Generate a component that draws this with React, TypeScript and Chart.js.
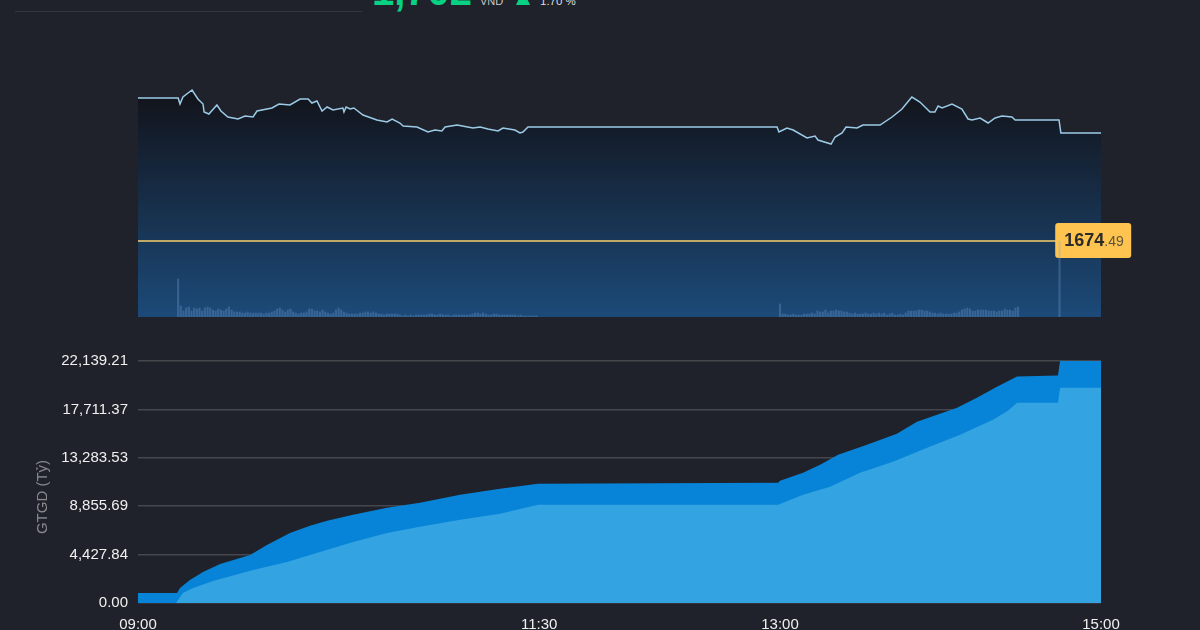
import { useEffect, useRef } from 'react'
import Chart from 'chart.js/auto'

const BG = '#1f222a'
const GREEN = '#08d184'
const FONT = '"Liberation Sans", Arial, sans-serif'

const PRICE_MINUTES = [
  0, 15, 15.7, 16.8, 20.2, 22.4, 24.3, 24.7, 26.5, 29.5, 31, 33.6, 37.4, 40, 43, 44.5, 50.1, 52.7, 56.8, 60.6, 63.6, 65,
  66.9, 68.8, 70.7, 72.9, 76.6, 77, 77.8, 79.3, 80.7, 84.1, 89.3, 93.1, 95, 97.9, 99.1, 104.3, 108.4, 111, 113.6, 114.8,
  119.3, 125.2, 127.9, 130.8, 134.6, 136.4, 140.9, 142.8, 143.9, 145.8, 154, 238.9, 239.6, 242.6, 244.9, 250.1, 253.1,
  254.2, 259.1, 260.6, 263.2, 264.7, 268.8, 271, 277.4, 281.9, 285.6, 289.3, 292.3, 296.1, 297.9, 299.1, 300.6, 304.3,
  308, 310.3, 311.8, 314.8, 317.8, 320.4, 323, 326.7, 327.9, 344.3, 345, 360,
]
const PRICE_VALUES = [
  1711.67, 1711.67, 1710.11, 1711.93, 1713.75, 1711.41, 1710.11, 1708.03, 1707.51, 1709.85, 1708.29, 1706.73, 1706.21,
  1706.99, 1706.73, 1708.29, 1709.07, 1710.11, 1709.85, 1711.41, 1711.41, 1710.37, 1710.89, 1708.29, 1709.33, 1708.55,
  1709.07, 1708.03, 1709.33, 1708.81, 1709.07, 1707.25, 1705.95, 1705.43, 1706.21, 1705.17, 1704.39, 1704.13, 1702.83,
  1703.35, 1703.09, 1704.13, 1704.65, 1703.87, 1704.13, 1703.61, 1703.09, 1703.87, 1703.35, 1702.57, 1702.83, 1704.13,
  1704.13, 1704.13, 1702.83, 1703.87, 1703.35, 1701.27, 1701.79, 1700.75, 1699.71, 1701.53, 1702.57, 1704.13, 1703.87,
  1704.65, 1704.65, 1706.73, 1708.81, 1711.93, 1710.63, 1708.03, 1708.03, 1709.59, 1709.07, 1710.11, 1708.81, 1706.21,
  1705.95, 1706.47, 1705.17, 1706.47, 1706.99, 1706.73, 1705.95, 1705.95, 1702.57, 1702.57,
]
const REFERENCE_PRICE = 1674.49
const REFERENCE_END = 344

const VOLUME_AM_START = 15
const VOLUME_AM = [
  38, 11, 6, 9, 10, 6, 9, 8, 9, 6, 9, 10, 9, 7, 6, 8, 7, 6, 8, 10, 7, 5, 5, 5, 4, 4, 5, 4, 4, 4, 4, 4, 3, 4, 4, 5, 6, 8, 9,
  7, 5, 7, 8, 5, 4, 3, 4, 4, 5, 8, 8, 6, 6, 5, 7, 5, 4, 3, 4, 7, 9, 7, 5, 4, 3, 3, 3, 3, 4, 4, 5, 5, 4, 5, 4, 3, 3, 2, 3,
  3, 3, 3, 3, 2, 1, 2, 1, 2, 1, 2, 2, 2, 2, 2, 3, 3, 2, 2, 3, 2, 2, 2, 1, 2, 2, 2, 2, 2, 2, 2, 3, 4, 4, 3, 4, 3, 2, 2, 3,
  3, 2, 2, 2, 2, 2, 2, 2, 1, 2, 1, 1, 1, 1, 1, 1,
]
const VOLUME_PM_START = 240
const VOLUME_PM = [
  13, 3, 3, 2, 2, 3, 2, 2, 2, 3, 3, 3, 4, 3, 6, 5, 5, 7, 4, 6, 6, 7, 6, 6, 5, 5, 4, 3, 4, 3, 3, 3, 4, 3, 3, 4, 3, 4, 3, 4,
  2, 3, 4, 2, 2, 3, 2, 4, 6, 6, 6, 6, 7, 7, 6, 6, 5, 4, 4, 3, 4, 3, 3, 3, 3, 4, 4, 5, 7, 8, 9, 8, 6, 6, 7, 7, 7, 7, 6, 6,
  6, 5, 6, 6, 8, 7, 7, 6, 9, 10,
]
const VOLUME_LAST_MINUTE = 344.5
const VOLUME_LAST = 76

const TOTAL_MINUTES = [
  0, 14.6, 15.7, 19.4, 24.3, 30.7, 41.9, 48.2, 56.8, 64.3, 70.7, 80.4, 93.1, 105.4, 120.4, 135.3, 149.5, 239.3, 240,
  248.6, 255, 261.7, 272.5, 283.7, 291.2, 306.2, 313.6, 321.1, 328.6, 343.9, 344.7, 360,
]
const TOTAL_VALUES = [
  916, 916, 1375, 2108, 2841, 3574, 4399, 5315, 6415, 7056, 7514, 8064, 8706, 9164, 9897, 10447, 10905, 10997, 11180,
  11913, 12646, 13563, 14479, 15487, 16587, 17870, 18786, 19794, 20711, 20802, 22139, 22139,
]
const PART_MINUTES = [
  0, 14.2, 16.8, 20.6, 28, 43, 55.7, 68, 80.4, 93.1, 105.4, 120.4, 135.3, 149.5, 239.3, 248.6, 258.7, 269.9, 282.2, 295,
  307.3, 319.6, 325.2, 328.6, 343.9, 344.7, 360,
]
const PART_VALUES = [
  0, 0, 916, 1375, 2016, 3024, 3757, 4674, 5590, 6415, 6965, 7606, 8156, 8981, 8981, 9897, 10630, 11913, 12921, 14204,
  15396, 16770, 17595, 18328, 18328, 19702, 19702,
]

const Y_TICKS = [0, 4427.84, 8855.69, 13283.53, 17711.37, 22139.21]
const X_TICKS = [0, 150, 240, 360]
const X_LABELS = ['09:00', '11:30', '13:00', '15:00']

const toPoints = (xs: number[], ys: number[]) => xs.map((x, i) => ({ x, y: ys[i] }))

const volumePoints = () => [
  ...VOLUME_AM.map((y, i) => ({ x: VOLUME_AM_START + i, y })),
  ...VOLUME_PM.map((y, i) => ({ x: VOLUME_PM_START + i, y })),
  { x: VOLUME_LAST_MINUTE, y: VOLUME_LAST },
]

// last-price tag, drawn between the area and the volume bars
const priceTagPlugin = {
  id: 'priceTag',
  afterDatasetDraw(chart: any, args: any) {
    if (args.index !== 1) return
    const { ctx, scales } = chart
    const right = scales.x.getPixelForValue(REFERENCE_END)
    const mid = scales.y.getPixelForValue(REFERENCE_PRICE)
    const [whole, decimals] = REFERENCE_PRICE.toFixed(2).split('.')
    ctx.save()
    ctx.fillStyle = '#ffc44f'
    ctx.beginPath()
    ctx.roundRect(right - 3, mid - 18, 76, 35, 3)
    ctx.fill()
    ctx.textBaseline = 'middle'
    ctx.textAlign = 'left'
    ctx.font = `bold 18px ${FONT}`
    ctx.fillStyle = '#2a2a2a'
    ctx.fillText(whole, right + 6, mid)
    const w = ctx.measureText(whole).width
    ctx.font = `14px ${FONT}`
    ctx.fillStyle = '#5c5340'
    ctx.fillText('.' + decimals, right + 6 + w, mid + 1)
    ctx.restore()
  },
}

function PriceChart() {
  const ref = useRef<HTMLCanvasElement | null>(null)
  useEffect(() => {
    if (!ref.current) return
    const chart = new Chart(ref.current, {
      type: 'line',
      plugins: [priceTagPlugin],
      data: {
        datasets: [
          {
            type: 'bar',
            data: volumePoints(),
            yAxisID: 'yVol',
            backgroundColor: 'rgba(120, 165, 215, 0.3)',
            barThickness: 1.5,
            order: 1,
          },
          {
            type: 'line',
            data: [
              { x: 0, y: REFERENCE_PRICE },
              { x: REFERENCE_END, y: REFERENCE_PRICE },
            ],
            borderColor: '#bfa968',
            borderWidth: 2,
            pointRadius: 0,
            order: 2,
          },
          {
            type: 'line',
            data: toPoints(PRICE_MINUTES, PRICE_VALUES),
            borderColor: '#9ccbe8',
            borderWidth: 1.5,
            pointRadius: 0,
            tension: 0,
            fill: 'start',
            backgroundColor: (c: any) => {
              const area = c.chart.chartArea
              if (!area) return 'transparent'
              const g = c.chart.ctx.createLinearGradient(0, 95, 0, area.bottom)
              g.addColorStop(0, '#12141b')
              g.addColorStop(1, '#1c4a79')
              return g
            },
            order: 3,
          },
        ],
      } as any,
      options: {
        animation: false,
        responsive: false,
        parsing: { xAxisKey: 'x', yAxisKey: 'y' },
        layout: { padding: { left: 138, right: 99, top: 81, bottom: 13 } },
        plugins: { legend: { display: false }, tooltip: { enabled: false } },
        scales: {
          x: { type: 'linear', min: 0, max: 360, display: false, offset: false },
          y: { min: 1654.73, max: 1716.09, display: false },
          yVol: { min: 0, max: 236, display: false },
        },
      } as any,
    })
    return () => chart.destroy()
  }, [])
  return <canvas ref={ref} width={1200} height={330} style={{ position: 'absolute', left: 0, top: 0 }} />
}

function TurnoverChart() {
  const ref = useRef<HTMLCanvasElement | null>(null)
  useEffect(() => {
    if (!ref.current) return
    const chart = new Chart(ref.current, {
      type: 'line',
      data: {
        datasets: [
          {
            data: toPoints(PART_MINUTES, PART_VALUES),
            borderColor: '#33a3e1',
            borderWidth: 0,
            pointRadius: 0,
            fill: 'origin',
            backgroundColor: '#33a3e1',
            order: 1,
          },
          {
            data: toPoints(TOTAL_MINUTES, TOTAL_VALUES),
            borderColor: '#0784d7',
            borderWidth: 0,
            pointRadius: 0,
            fill: 'origin',
            backgroundColor: '#0784d7',
            order: 2,
          },
        ],
      },
      options: {
        animation: false,
        responsive: false,
        layout: { padding: { right: 99, top: 21 } },
        plugins: { legend: { display: false }, tooltip: { enabled: false } },
        scales: {
          x: {
            type: 'linear',
            min: 0,
            max: 360,
            grid: { display: false },
            border: { display: false },
            afterBuildTicks: (s: any) => {
              s.ticks = X_TICKS.map((value) => ({ value }))
            },
            afterFit: (s: any) => {
              s.height = 27
            },
            ticks: {
              autoSkip: false,
              maxRotation: 0,
              color: '#f0f0f0',
              padding: 5,
              font: { family: FONT, size: 15 },
              callback: (v: any) => X_LABELS[X_TICKS.indexOf(Number(v))],
            },
          },
          y: {
            min: 0,
            max: 22139.21,
            grid: { color: '#45474c', lineWidth: 1.5, drawTicks: false },
            border: { display: false },
            afterBuildTicks: (s: any) => {
              s.ticks = Y_TICKS.map((value) => ({ value }))
            },
            afterFit: (s: any) => {
              s.width = 138
            },
            ticks: {
              color: '#f0f0f0',
              padding: 10,
              font: { family: FONT, size: 15 },
              callback: (v: any) =>
                Number(v).toLocaleString('en-US', { minimumFractionDigits: 2, maximumFractionDigits: 2 }),
            },
          },
        },
      } as any,
    })
    return () => chart.destroy()
  }, [])
  return <canvas ref={ref} width={1200} height={290} style={{ position: 'absolute', left: 0, top: 340 }} />
}

const textStyle = (left: number, bottom: number, size: number, color: string, weight = 400) => ({
  position: 'absolute' as const,
  left,
  top: bottom - size,
  fontFamily: FONT,
  fontSize: size,
  lineHeight: `${size}px`,
  fontWeight: weight,
  color,
  whiteSpace: 'nowrap' as const,
})

export default function App() {
  return (
    <div
      style={{
        position: 'absolute',
        left: 0,
        top: 0,
        width: 1200,
        height: 630,
        overflow: 'hidden',
        background: BG,
      }}
    >
      <div style={{ position: 'absolute', left: 15, top: 11, width: 347, height: 1, background: '#34373e' }} />
      <div style={textStyle(372, 11, 40, GREEN, 700)}>1,702</div>
      <div style={textStyle(480, 7, 11, '#c8c8c8')}>VND</div>
      <div
        style={{
          position: 'absolute',
          left: 516,
          top: -10,
          width: 14,
          height: 15,
          background: GREEN,
          clipPath: 'polygon(50% 0, 100% 100%, 0 100%)',
        }}
      />
      <div style={textStyle(540, 7, 11.5, '#dddddd')}>1.70 %</div>
      <PriceChart />
      <TurnoverChart />
      <div
        style={{
          position: 'absolute',
          left: 2,
          top: 488,
          width: 80,
          height: 18,
          lineHeight: '18px',
          textAlign: 'center',
          fontFamily: FONT,
          fontSize: 15,
          color: '#85878b',
          transform: 'rotate(-90deg)',
        }}
      >
        GTGD (Tỷ)
      </div>
    </div>
  )
}
